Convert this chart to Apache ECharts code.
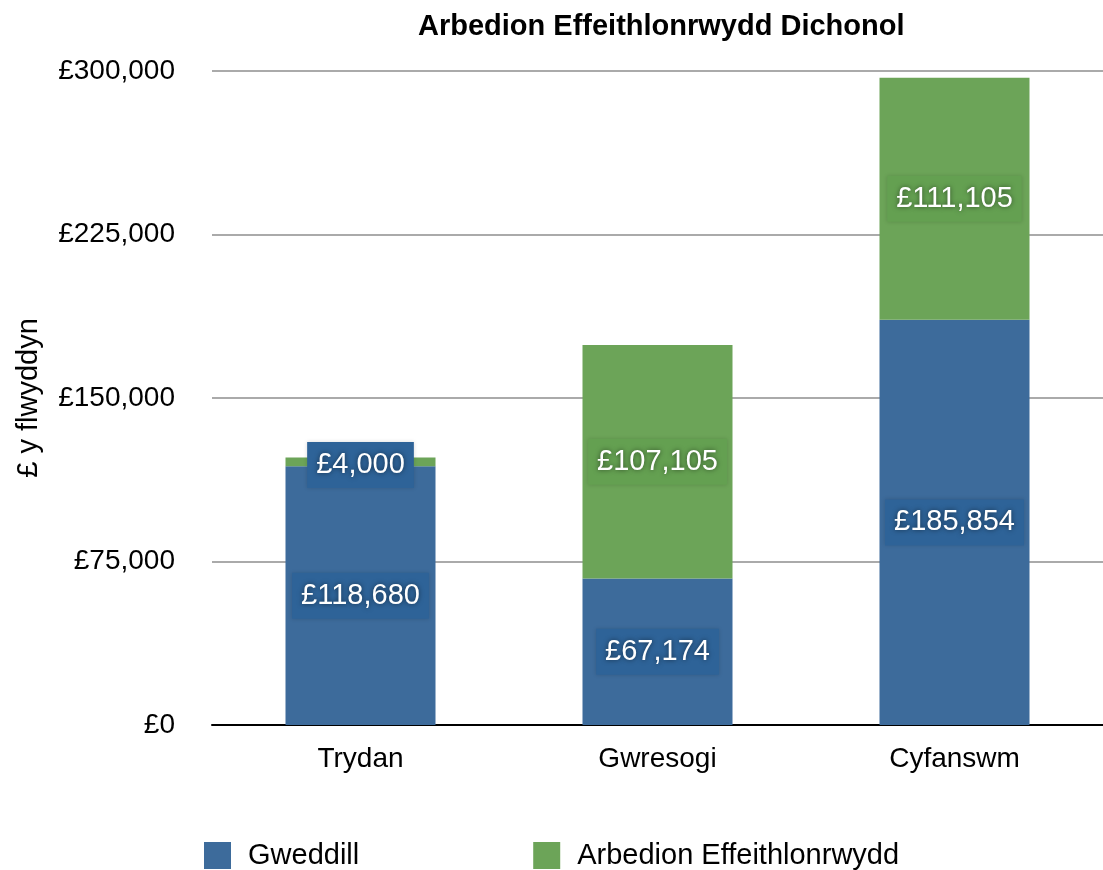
<!DOCTYPE html>
<html>
<head>
<meta charset="utf-8">
<script src="https://cdn.jsdelivr.net/npm/echarts@6/dist/echarts.min.js"></script>
<style>html,body{margin:0;padding:0;background:#fff}#c{width:1103px;height:870px}</style>
</head>
<body>
<div id="c"></div>
<script>
const titleText = 'Arbedion Effeithlonrwydd Dichonol';
const yAxisName = '£ y flwyddyn';
const categories = ['Trydan', 'Gwresogi', 'Cyfanswm'];
const seriesNames = ['Gweddill', 'Arbedion Effeithlonrwydd'];
const gweddill = [118680, 67174, 185854];
const arbedion = [4000, 107105, 111105];
const yTicks = [0, 75000, 150000, 225000, 300000];

function fmt(v) {
  return '£' + String(Math.round(v)).replace(/\B(?=(\d{3})+(?!\d))/g, ',');
}
const FONT = '"Liberation Sans", Arial, Helvetica, sans-serif';
const BLUE = '#3d6b9b';
const GREEN = '#6ca458';
const BLUE_LBL = '#2e6398';
const GREEN_LBL = '#64a051';

function labelCfg(bg) {
  return {
    show: true,
    position: 'inside',
    formatter: p => fmt(p.value),
    color: '#fff',
    fontFamily: FONT,
    fontSize: 29,
    backgroundColor: bg,
    padding: [9, 9, 8, 9],
    textShadowColor: 'rgba(0,0,0,0.55)',
    textShadowBlur: 5,
    shadowColor: 'rgba(0,0,0,0.15)',
    shadowBlur: 4
  };
}

// small segments (too thin for their own label box) take the box colour of the segment below
const greenData = arbedion.map(v => (v < 10000
  ? {value: v, label: {backgroundColor: BLUE_LBL, offset: [0, 3]}}
  : v));

const chart = echarts.init(document.getElementById('c'), null, {renderer: 'canvas'});
chart.setOption({
  animation: false,
  backgroundColor: '#fff',
  title: {
    text: titleText,
    left: 413,
    top: 7,
    textStyle: {fontFamily: FONT, fontWeight: 'bold', fontSize: 29, color: '#000'}
  },
  legend: {
    top: 836,
    left: 199,
    itemWidth: 27,
    itemHeight: 27,
    itemGap: 174,
    icon: 'rect',
    textStyle: {fontFamily: FONT, fontSize: 29, color: '#000', padding: [0, 0, 0, 12]},
    data: seriesNames
  },
  grid: {left: 212, top: 71, right: 0, height: 654, containLabel: false},
  xAxis: {
    type: 'category',
    data: categories,
    axisLine: {show: true, lineStyle: {color: '#000', width: 2}},
    axisTick: {show: false},
    axisLabel: {fontFamily: FONT, fontSize: 28, color: '#000', margin: 20}
  },
  yAxis: {
    type: 'value',
    min: yTicks[0],
    max: yTicks[yTicks.length - 1],
    interval: yTicks[1] - yTicks[0],
    name: yAxisName,
    nameLocation: 'middle',
    nameRotate: 90,
    nameGap: 169,
    nameTextStyle: {fontFamily: FONT, fontSize: 29, color: '#000'},
    axisLine: {show: false},
    axisTick: {show: false},
    splitLine: {lineStyle: {color: '#aaaaaa', width: 2}},
    axisLabel: {fontFamily: FONT, fontSize: 28, color: '#000', margin: 37, formatter: v => fmt(v)}
  },
  series: [
    {
      name: seriesNames[0], type: 'bar', stack: 's', data: gweddill,
      barWidth: 150,
      itemStyle: {color: BLUE},
      label: labelCfg(BLUE_LBL)
    },
    {
      name: seriesNames[1], type: 'bar', stack: 's', data: greenData,
      barWidth: 150,
      itemStyle: {color: GREEN},
      label: labelCfg(GREEN_LBL)
    }
  ]
});
</script>
</body>
</html>
